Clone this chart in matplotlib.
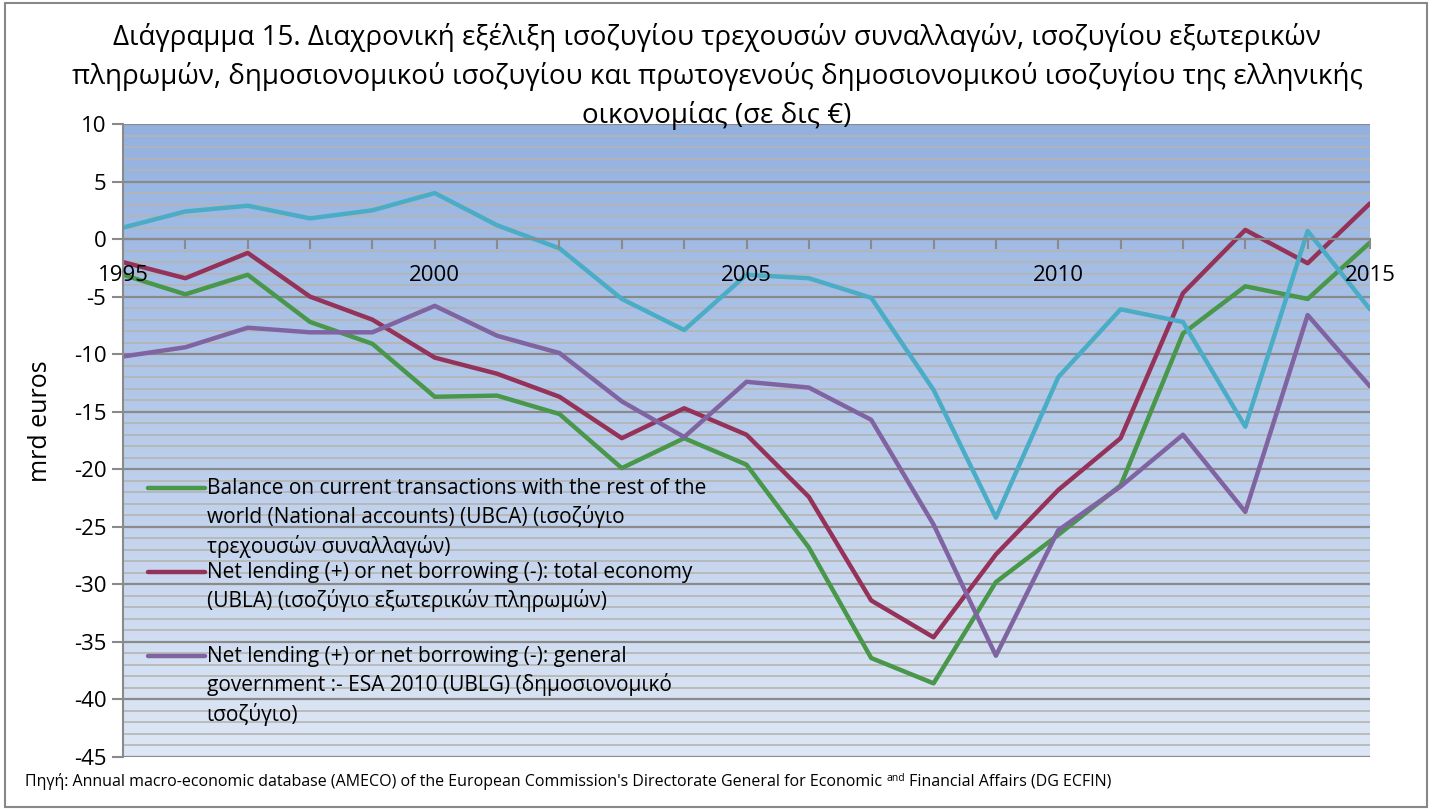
import numpy as np
import matplotlib
matplotlib.use("Agg")
import matplotlib.pyplot as plt
from matplotlib.patches import Rectangle
from matplotlib.ticker import MultipleLocator, FuncFormatter

plt.rcParams['font.family'] = ['Open Sans', 'DejaVu Sans']

# Data (bn euros)
years = list(range(1995, 2016))
ubca = [-3.1, -4.8, -3.1, -7.2, -9.1, -13.7, -13.6, -15.2, -19.9, -17.3, -19.6,
        -26.8, -36.4, -38.6, -29.8, -25.7, -21.4, -8.2, -4.1, -5.2, -0.3]
ubla = [-2.0, -3.4, -1.2, -5.0, -7.0, -10.3, -11.7, -13.7, -17.3, -14.7, -17.0,
        -22.4, -31.4, -34.6, -27.4, -21.8, -17.3, -4.7, 0.8, -2.1, 3.1]
ublg = [-10.2, -9.4, -7.7, -8.1, -8.1, -5.8, -8.4, -9.9, -14.1, -17.2, -12.4,
        -12.9, -15.7, -24.8, -36.2, -25.3, -21.5, -17.0, -23.7, -6.6, -12.8]
primary = [1.0, 2.4, 2.9, 1.8, 2.5, 4.0, 1.2, -0.8, -5.2, -7.9, -3.1,
           -3.4, -5.1, -13.1, -24.2, -12.0, -6.1, -7.2, -16.3, 0.7, -6.1]

legend_labels = [
    "Balance on current transactions with the rest of the\n"
    "world (National accounts) (UBCA) (ισοζύγιο\n"
    "τρεχουσών συναλλαγών)",
    "Net lending (+) or net borrowing (-): total economy\n"
    "(UBLA) (ισοζύγιο εξωτερικών πληρωμών)\n",
    "Net lending (+) or net borrowing (-): general\n"
    "government :- ESA 2010 (UBLG) (δημοσιονομικό\n"
    "ισοζύγιο)",
]

title_lines = [
    "Διάγραμμα 15. Διαχρονική εξέλιξη ισοζυγίου τρεχουσών συναλλαγών, ισοζυγίου εξωτερικών",
    "πληρωμών, δημοσιονομικού ισοζυγίου και πρωτογενούς δημοσιονομικού ισοζυγίου της ελληνικής",
    "οικονομίας (σε δις €)",
]

source_main = ("Πηγή: Annual macro-economic database (AMECO) of the European "
               "Commission's Directorate General for Economic ")
source_sup = "and"
source_end = " Financial Affairs (DG ECFIN)"

fig = plt.figure(figsize=(14.34, 8.09), dpi=100)
ax = fig.add_axes([123 / 1434, 1 - 757 / 809, (1370 - 123) / 1434, (757 - 124) / 809])

# gradient background
grad = np.linspace(0, 1, 256).reshape(-1, 1)
top = np.array([0x93, 0xB1, 0xE0]) / 255
bot = np.array([0xDE, 0xE7, 0xF5]) / 255
img = top[None, None, :] * (1 - grad[:, :, None]) + bot[None, None, :] * grad[:, :, None]
ax.imshow(img, extent=[0, 1, 0, 1], transform=ax.transAxes, aspect='auto', zorder=0)

colors = ["#48974A", "#953259", "#8064A2", "#4BACC6"]
series = [ubca, ubla, ublg, primary]
for vals, c in zip(series, colors):
    ax.plot(years, vals, color=c, lw=3.2, solid_capstyle='round', zorder=2)

ax.set_xlim(1995, 2015)
ax.set_ylim(-45, 10)

# y grid
ax.yaxis.set_major_locator(MultipleLocator(5))
ax.yaxis.set_minor_locator(MultipleLocator(1))
ax.grid(axis='y', which='major', color='#8A8A8A', lw=1.6)
ax.grid(axis='y', which='minor', color='#B5B5B2', lw=1.2)
ax.yaxis.set_zorder(0.5)
ax.tick_params(axis='y', which='major', length=8, width=1.5, color='#8A8A8A',
               labelsize=16, pad=4)
ax.tick_params(axis='y', which='minor', length=0)
ax.yaxis.set_major_formatter(FuncFormatter(lambda v, p: "%d" % v))

# x axis crossing at zero
ax.spines['bottom'].set_position(('data', 0))
ax.spines['bottom'].set_color('#8A8A8A')
ax.spines['bottom'].set_linewidth(1.5)
ax.spines['left'].set_color('#8A8A8A')
ax.spines['left'].set_linewidth(1.5)
ax.spines['top'].set_visible(False)
ax.spines['right'].set_visible(False)
ax.xaxis.set_major_locator(MultipleLocator(1))
ax.xaxis.set_major_formatter(FuncFormatter(lambda v, p: "%d" % v if int(round(v)) % 5 == 0 else ""))
ax.tick_params(axis='x', length=7, width=1.5, color='#8A8A8A', labelsize=16, pad=12)
ax.xaxis.set_zorder(3)

ax.set_ylabel("mrd euros", fontsize=18)
ax.yaxis.set_label_coords(-0.056, 0.53)

# legend drawn by hand, handle on first line of each entry
for i, (lab, c) in enumerate(zip(legend_labels, colors[:3])):
    ty = 0.425 - i * 0.1327
    ax.plot([0.02, 0.066], [ty, ty], transform=ax.transAxes, color=c, lw=3.2,
            solid_capstyle='round', zorder=4)
    ax.text(0.067, ty + 0.016, lab, transform=ax.transAxes, fontsize=15, va='top',
            ha='left', linespacing=1.36, zorder=4)

# title, one text per line
for i, line in enumerate(title_lines):
    fig.text(0.5, 1 - (37 + i * 39.5) / 809, line, ha='center', va='center',
             fontsize=20, zorder=5)

# source line with superscript "and"
src1 = fig.text(25 / 1434, 1 - 786 / 809, source_main, fontsize=11.5, va='baseline', ha='left')
fig.canvas.draw()
r = fig.canvas.get_renderer()
bb1 = src1.get_window_extent(r)
src2 = fig.text(bb1.x1 / 1434, 1 - 781 / 809, source_sup, fontsize=7.5, va='baseline', ha='left')
bb2 = src2.get_window_extent(r)
fig.text(bb2.x1 / 1434, 1 - 786 / 809, source_end, fontsize=11.5, va='baseline', ha='left')

fig.patches.append(Rectangle((5 / 1434, 2 / 809), 1422 / 1434, 804 / 809, transform=fig.transFigure,
                             fill=False, edgecolor='#888888', lw=1.5))

fig.savefig("out.png", dpi=100)
